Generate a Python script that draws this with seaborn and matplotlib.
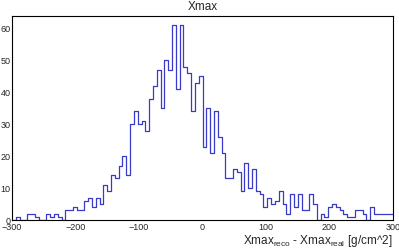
import numpy as np
import pandas as pd
import matplotlib
matplotlib.use("Agg")
import matplotlib.pyplot as plt
import matplotlib.ticker as mtick
import seaborn as sns

# histogram: 100 bins from -300 to 300 (6 g/cm^2 per bin)
x_min, x_max, n_bins = -300, 300, 100
counts = [
    0, 1, 0, 0, 2, 2, 1, 0, 0, 2,
    1, 2, 1, 0, 3, 3, 4, 3, 3, 6,
    7, 4, 7, 5, 11, 9, 14, 13, 17, 20,
    14, 30, 34, 30, 31, 28, 38, 42, 47, 35,
    50, 47, 61, 41, 61, 48, 46, 34, 43, 45,
    23, 35, 21, 34, 26, 21, 13, 13, 16, 15,
    9, 18, 10, 16, 9, 8, 4, 7, 5, 6,
    9, 5, 2, 8, 4, 8, 3, 3, 8, 5,
    0, 2, 1, 4, 5, 4, 3, 2, 1, 1,
    3, 3, 2, 0, 4, 2, 2, 2, 2, 2,
]
title = "Xmax"
x_label = r"Xmax$_{\mathregular{reco}}$ - Xmax$_{\mathregular{real}}$ [g/cm^2]"

edges = np.linspace(x_min, x_max, n_bins + 1)
df = pd.DataFrame({"x": 0.5 * (edges[:-1] + edges[1:]), "w": counts})

sns.set_style("white")
plt.rcParams["font.family"] = ["Liberation Sans", "DejaVu Sans"]
plt.rcParams["mathtext.fontset"] = "custom"
plt.rcParams["mathtext.rm"] = "Liberation Sans"
plt.rcParams["mathtext.it"] = "Liberation Sans"

fig = plt.figure(figsize=(3.99, 2.48), dpi=100)
ax = fig.add_axes([12 / 399, 28 / 248, 381 / 399, 204.5 / 248])

sns.histplot(
    data=df,
    x="x",
    weights="w",
    bins=n_bins,
    binrange=(x_min, x_max),
    element="step",
    fill=False,
    color="#3a3ac8",
    linewidth=0.9,
    ax=ax,
)

ax.set_xlim(x_min, x_max)
ax.set_ylim(0, max(counts) * 1.05)
ax.set_ylabel("")
ax.set_xlabel(x_label, fontsize=8.5, loc="right", labelpad=1)
ax.set_title(title, fontsize=8.5, pad=4)

ax.xaxis.set_major_locator(mtick.MultipleLocator(100))
ax.xaxis.set_minor_locator(mtick.MultipleLocator(20))
ax.yaxis.set_major_locator(mtick.MultipleLocator(10))
ax.yaxis.set_minor_locator(mtick.MultipleLocator(2))

ax.tick_params(axis="both", which="both", direction="in", labelsize=6.5,
               color="black", width=0.7, top=False, right=False)
ax.tick_params(axis="y", which="major", length=8.6, pad=1)
ax.tick_params(axis="y", which="minor", length=4.3)
ax.tick_params(axis="x", which="major", length=5, pad=2)
ax.tick_params(axis="x", which="minor", length=2.5)

for spine in ax.spines.values():
    spine.set_visible(True)
    spine.set_color("black")
    spine.set_linewidth(0.8)

fig.savefig("out.png", dpi=100)
